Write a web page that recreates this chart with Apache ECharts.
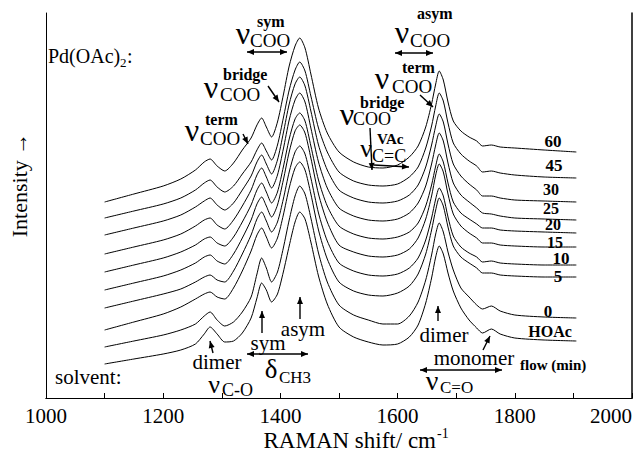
<!DOCTYPE html>
<html><head><meta charset="utf-8">
<script src="https://cdn.jsdelivr.net/npm/echarts@6/dist/echarts.min.js"></script>
<style>html,body{margin:0;padding:0;background:#fff}#c{width:641px;height:451px}</style>
</head><body><div id="c"></div>
<script>
const shift = [1100,1150,1200,1230,1255,1270,1280,1292,1305,1320,1335,1350,1360,1368,1376,1385,1395,1405,1415,1425,1433,1442,1452,1465,1480,1500,1525,1550,1575,1600,1620,1635,1648,1658,1665,1671,1678,1686,1695,1708,1722,1735,1745,1760,1775,1800,1850,1905];
const flowLabels = ['60','45','30','25','20','15','10','5','0','HOAc'];
const s60 = [196,204,212,219,228,236,239,232,227,235,248,260,273,280,271,261,276,303,332,352,360,350,324,290,265,246,236,231,230,233,241,252,271,294,314,327,318,296,277,267,261,257,252,253,251,250,248,246];
const s45 = [180,187,194,200,208,215,218,211,206,212,224,236,248,255,247,238,253,280,308,328,336,327,302,270,246,226,217,213,212,214,221,231,250,272,292,305,297,275,255,244,237,232,226,227,225,223,221,220];
const s30 = [163,170,177,183,191,197,200,193,188,195,208,222,236,243,234,224,238,265,294,314,321,312,287,253,228,208,200,196,195,197,203,213,231,253,272,284,276,254,234,222,214,208,202,202,200,198,197,196];
const s25 = [144,151,158,164,172,178,180,173,169,178,192,208,223,230,221,210,223,249,278,298,305,296,270,236,210,190,182,178,177,179,185,195,212,234,253,265,257,235,215,203,196,190,185,184,182,180,179,178];
const s20 = [126,133,140,146,153,159,161,155,152,161,176,193,208,215,206,195,206,231,259,279,285,277,252,218,192,172,164,160,159,161,166,175,192,213,232,244,236,215,196,185,179,174,170,170,168,167,166,165];
const s15 = [108,115,122,128,135,141,143,137,134,144,160,178,194,201,192,181,193,218,246,267,273,265,240,204,176,153,146,142,141,143,149,160,179,202,223,234,226,204,184,172,165,160,155,155,153,152,151,151];
const s10 = [90,97,104,109,116,121,123,118,116,127,144,163,179,186,177,166,176,199,226,246,252,244,220,185,157,135,127,123,122,124,130,140,158,180,199,210,202,181,162,151,145,141,136,137,135,134,133,133];
const s5 = [68,76,84,91,99,104,106,101,99,110,127,147,163,170,161,150,160,183,210,230,236,228,204,168,139,116,107,103,102,105,112,124,144,168,188,200,192,171,152,141,135,130,125,125,123,122,121,121];
const s0 = [51,57,63,68,74,82,86,78,72,76,86,101,124,140,130,116,126,150,178,202,212,204,180,145,116,93,83,78,74,74,82,96,118,143,164,175,166,146,128,110,101,93,89,92,87,83,81,80];
const sHOAc = [34,39,44,48,54,64,71,64,56,57,65,80,100,115,108,96,104,126,152,176,186,179,156,122,94,71,61,56,53,54,61,73,95,120,141,152,144,125,107,90,78,70,65,69,64,60,58,57];
const xTicks = [1000,1200,1400,1600,1800,2000];

const allSeries = [s60,s45,s30,s25,s20,s15,s10,s5,s0,sHOAc];
const SERIF = "'Liberation Serif', 'Times New Roman', serif";

function txt(t, x, y, size, opts) {
  opts = opts || {};
  return {type:'text', z:100, rotation: opts.rot || 0, x: x, y: y,
    style:{text:t, x:0, y:0, fill:'#000',
      font:(opts.bold?'bold ':'') + size + 'px ' + SERIF,
      textAlign: opts.align || 'left', textVerticalAlign:'middle'}};
}
function arrow(x1,y1,x2,y2,both) {
  const els = [{type:'line', z:100, shape:{x1:x1,y1:y1,x2:x2,y2:y2}, style:{stroke:'#000', lineWidth:1.4}}];
  function head(tx,ty,fx,fy){
    const dx=tx-fx, dy=ty-fy, L=Math.hypot(dx,dy)||1, ux=dx/L, uy=dy/L;
    const hl=7, hw=3;
    els.push({type:'polygon', z:100, shape:{points:[[tx,ty],[tx-ux*hl-uy*hw, ty-uy*hl+ux*hw],[tx-ux*hl+uy*hw, ty-uy*hl-ux*hw]]}, style:{fill:'#000'}});
  }
  head(x2,y2,x1,y1);
  if (both) head(x1,y1,x2,y2);
  return els;
}
function nu(x, y, sup, sub, o) {
  o = o || {};
  return [
    txt('\u03bd', x, y, o.nuSize || 32, {align:'center'}),
    txt(sup, o.supX, o.supY, o.supSize || 16, {bold:true}),
    txt(sub, o.subX, o.subY, o.subSize || 19)
  ];
}

const chart = echarts.init(document.getElementById('c'), null, {renderer:'svg'});

const graphic = [].concat(
  [txt('Pd(OAc)', 48, 56, 20), txt('2', 120, 62, 13), txt(':', 127, 56, 20)],
  nu(243, 33, 'sym', 'COO', {supX:257, supY:21, subX:250, subY:40}),
  arrow(247, 52, 287, 52, true),
  nu(211, 87, 'bridge', 'COO', {supX:223, supY:74, subX:220, subY:94}),
  arrow(268, 86, 279, 102),
  nu(192, 130, 'term', 'COO', {supX:205, supY:119, subX:200, subY:138}),
  arrow(243, 134, 248, 144),
  nu(402, 32, 'asym', 'COO', {supX:417, supY:13, subX:410, subY:40}),
  arrow(395, 53, 433, 53, true),
  nu(382, 78, 'term', 'COO', {supX:402, supY:67, subX:392, subY:86}),
  arrow(420, 95, 433, 107),
  nu(347, 114, 'bridge', 'COO', {supX:360, supY:102, subX:353, subY:119, subSize:18}),
  arrow(370, 128, 372, 170),
  [txt('VAc', 377, 139, 15, {bold:true}), txt('\u03bd', 366, 148, 26, {align:'center'}), txt('C=C', 372, 156, 18)],
  arrow(374, 165, 409, 167),
  [txt('dimer', 217, 362, 21, {align:'center'}), txt('\u03bd', 214, 384, 26, {align:'center'}), txt('C-O', 222, 390, 18)],
  arrow(213, 353, 210, 341),
  [txt('sym', 268, 343, 21, {align:'center'})],
  arrow(262, 333, 262, 311),
  [txt('asym', 303, 329, 21, {align:'center'})],
  arrow(300, 319, 300, 297),
  arrow(247, 354, 308, 354, true),
  [txt('\u03b4', 271, 369, 27, {align:'center'}), txt('CH3', 279, 377, 17)],
  [txt('solvent:', 55, 377, 21)],
  [txt('dimer', 444, 335, 21, {align:'center'})],
  arrow(438, 321, 438, 306),
  [txt('monomer', 474, 358, 21, {align:'center'})],
  arrow(483, 350, 490, 336),
  arrow(420, 370, 502, 370, true),
  [txt('\u03bd', 432, 380, 28, {align:'center'}), txt('C=O', 440, 387, 17)],
  [txt('flow (min)', 520, 365, 15, {bold:true})],
  [
    txt(flowLabels[0], 553, 141, 17, {bold:true, align:'center'}),
    txt(flowLabels[1], 554, 165, 17, {bold:true, align:'center'}),
    txt(flowLabels[2], 551, 189, 16, {bold:true, align:'center'}),
    txt(flowLabels[3], 551, 208, 16, {bold:true, align:'center'}),
    txt(flowLabels[4], 553, 224, 16, {bold:true, align:'center'}),
    txt(flowLabels[5], 555, 242, 16, {bold:true, align:'center'}),
    txt(flowLabels[6], 561, 258, 17, {bold:true, align:'center'}),
    txt(flowLabels[7], 558, 276, 17, {bold:true, align:'center'}),
    txt(flowLabels[8], 548, 311, 17, {bold:true, align:'center'}),
    txt(flowLabels[9], 550, 331, 16, {bold:true, align:'center'})
  ],
  [txt('RAMAN shift/ cm', 436, 440, 23, {align:'right'}), txt('-1', 437, 433, 14)],
  [txt('Intensity \u2192', 19, 185, 22, {align:'center', rot: Math.PI/2})]
);

chart.setOption({
  animation:false,
  backgroundColor:'#fff',
  grid:{left:46, right:9, top:13, bottom:53, containLabel:false},
  xAxis:[{
    type:'value', min:1000, max:2000, interval:200,
    axisLine:{show:true, lineStyle:{color:'#000', width:1}},
    axisTick:{show:true, inside:true, length:5, lineStyle:{color:'#000'}},
    minorTick:{show:true, splitNumber:2, length:5, lineStyle:{color:'#000'}},
    splitLine:{show:false},
    axisLabel:{color:'#000', fontSize:21, fontFamily:SERIF, margin:7, alignMaxLabel:'right',
      formatter: v => xTicks.indexOf(v) >= 0 ? String(v) : ''}
  },{
    type:'value', min:1000, max:2000, position:'top',
    axisLine:{show:true, lineStyle:{color:'#000', width:1}},
    axisTick:{show:false}, axisLabel:{show:false}, splitLine:{show:false}
  }],
  yAxis:[{
    type:'value', min:0, max:385,
    axisLine:{show:true, lineStyle:{color:'#000', width:1}},
    axisTick:{show:false}, axisLabel:{show:false}, splitLine:{show:false}
  },{
    type:'value', min:0, max:385, position:'right',
    axisLine:{show:true, lineStyle:{color:'#000', width:1.5}},
    axisTick:{show:false}, axisLabel:{show:false}, splitLine:{show:false}
  }],
  series: allSeries.map((arr, k) => ({
    name: flowLabels[k], type:'line', xAxisIndex:0, yAxisIndex:0,
    data: shift.map((x, i) => [x, arr[i]]),
    showSymbol:false, symbol:'none', smooth:0.25,
    lineStyle:{color:'#000', width:1}
  })),
  graphic: graphic
});
</script></body></html>
